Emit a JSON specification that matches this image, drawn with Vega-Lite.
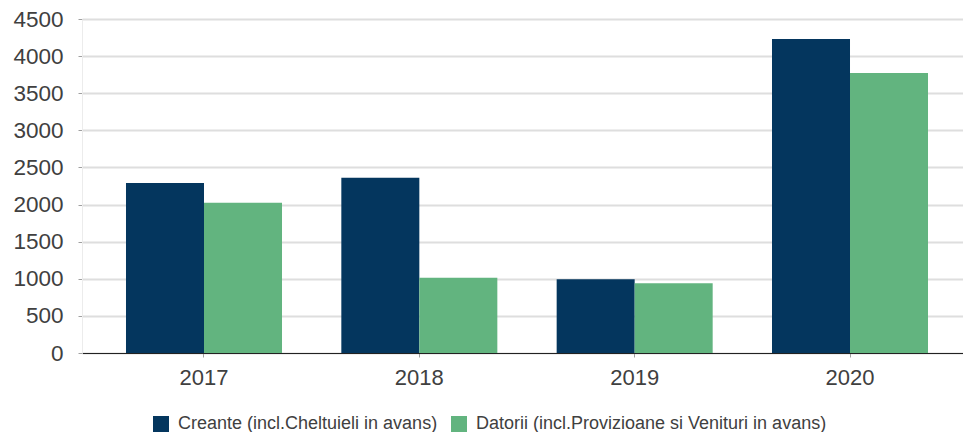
{
  "$schema": "https://vega.github.io/schema/vega-lite/v6.json",
  "width": 881,
  "height": 334,
  "autosize": {"type": "none"},
  "padding": {"left": 82, "top": 19, "right": 0, "bottom": 79},
  "background": "white",
  "data": {
    "values": [
      {"an": "2017", "serie": "Creante (incl.Cheltuieli in avans)", "valoare": 2292},
      {"an": "2017", "serie": "Datorii (incl.Provizioane si Venituri in avans)", "valoare": 2023},
      {"an": "2018", "serie": "Creante (incl.Cheltuieli in avans)", "valoare": 2360},
      {"an": "2018", "serie": "Datorii (incl.Provizioane si Venituri in avans)", "valoare": 1013},
      {"an": "2019", "serie": "Creante (incl.Cheltuieli in avans)", "valoare": 992},
      {"an": "2019", "serie": "Datorii (incl.Provizioane si Venituri in avans)", "valoare": 940},
      {"an": "2020", "serie": "Creante (incl.Cheltuieli in avans)", "valoare": 4229},
      {"an": "2020", "serie": "Datorii (incl.Provizioane si Venituri in avans)", "valoare": 3771}
    ]
  },
  "mark": {"type": "bar"},
  "encoding": {
    "x": {
      "field": "an",
      "type": "nominal",
      "scale": {"paddingInner": 0.2755, "paddingOuter": 0.1834, "align": 0.557},
      "axis": {
        "title": null,
        "labelAngle": 0,
        "labelFont": "Liberation Sans",
        "labelFontSize": 22,
        "labelColor": "#404040",
        "labelPadding": 10,
        "domainColor": "#222222",
        "domainWidth": 1,
        "tickColor": "#a0a0a0",
        "tickSize": 4,
        "grid": false
      }
    },
    "xOffset": {"field": "serie", "type": "nominal", "scale": {"paddingInner": 0, "paddingOuter": 0}},
    "y": {
      "field": "valoare",
      "type": "quantitative",
      "scale": {"domain": [0, 4500], "nice": false},
      "axis": {
        "title": null,
        "format": "d",
        "values": [0, 500, 1000, 1500, 2000, 2500, 3000, 3500, 4000, 4500],
        "labelFont": "Liberation Sans",
        "labelFontSize": 22.5,
        "labelColor": "#404040",
        "labelPadding": 15,
        "tickColor": "#a0a0a0",
        "tickSize": 4,
        "domainColor": "#ececec",
        "domainWidth": 1,
        "gridColor": "#dedede",
        "gridWidth": 2
      }
    },
    "color": {
      "field": "serie",
      "type": "nominal",
      "scale": {"range": ["#04365E", "#62B47F"]},
      "legend": {
        "title": null,
        "orient": "none",
        "direction": "horizontal",
        "legendX": 70,
        "legendY": 396,
        "symbolType": "square",
        "symbolSize": 256,
        "symbolStrokeWidth": 0,
        "symbolOpacity": 1,
        "labelFont": "Liberation Sans",
        "labelFontSize": 18,
        "labelColor": "#404040",
        "labelOffset": 8,
        "labelLimit": 0,
        "columnPadding": 12,
        "padding": 0
      }
    }
  },
  "config": {"view": {"stroke": null}}
}
